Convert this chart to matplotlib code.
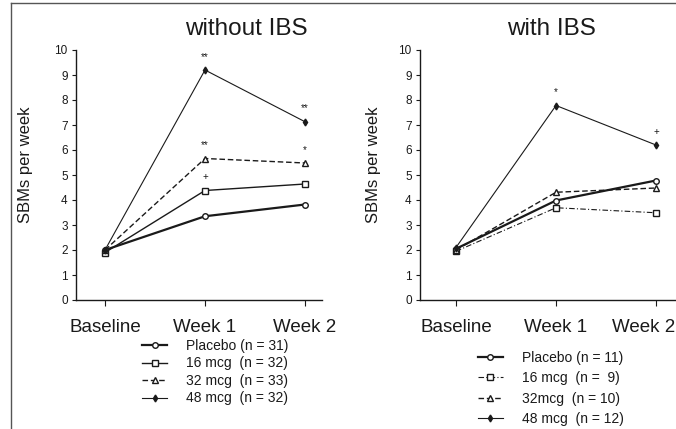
import matplotlib.pyplot as plt
from matplotlib.lines import Line2D
from matplotlib.transforms import ScaledTranslation

plt.rcParams['font.family'] = ['Liberation Sans', 'DejaVu Sans']

timepoints = ['Baseline', 'Week 1', 'Week 2']
yticks = list(range(0, 11))

# without IBS
no_ibs_placebo = [2.0, 3.35, 3.82]
no_ibs_16 = [1.9, 4.38, 4.64]
no_ibs_32 = [2.0, 5.66, 5.48]
no_ibs_48 = [2.0, 9.2, 7.13]
no_ibs_labels = ['Placebo (n = 31)', '16 mcg  (n = 32)', '32 mcg  (n = 33)', '48 mcg  (n = 32)']

# with IBS
ibs_placebo = [2.05, 3.98, 4.78]
ibs_16 = [1.95, 3.69, 3.49]
ibs_32 = [2.0, 4.31, 4.48]
ibs_48 = [2.1, 7.78, 6.2]
ibs_labels = ['Placebo (n = 11)', '16 mcg  (n =  9)', '32mcg  (n = 10)', '48 mcg  (n = 12)']

# significance marks: (series index, timepoint index, symbol)
no_ibs_marks = [(3, 1, '**'), (3, 2, '**'), (2, 1, '**'), (2, 2, '*'), (1, 1, '+')]
ibs_marks = [(3, 1, '*'), (3, 2, '+')]

INK = '#1a1a1a'


def draw_panel(ax, series, marks, styles_16):
    x = range(len(timepoints))
    styles = [
        dict(ls='-', lw=1.6, marker='o', ms=4, mfc='white'),
        styles_16,
        dict(ls=(0, (4, 2)), lw=1.0, marker='^', ms=4, mfc='white'),
        dict(ls='-', lw=0.8, marker='d', ms=3.5, mfc=INK),
    ]
    handles = []
    for vals, st in zip(series, styles):
        h, = ax.plot(x, vals, color=INK, mec=INK, **st)
        handles.append(h)
    for si, ti, sym in marks:
        ax.annotate(sym, (ti, series[si][ti]), xytext=(0, 6), textcoords='offset points',
                    ha='center', va='bottom', fontsize=7, color=INK)
    ax.set_ylim(0, 10)
    ax.set_yticks(yticks)
    ax.set_xticks(list(x))
    ax.set_xticklabels(timepoints, fontsize=13.5)
    ax.tick_params(axis='y', labelsize=8.5, length=3, width=0.8, pad=3, colors=INK)
    ax.tick_params(axis='x', length=4, width=0.8, pad=10, colors=INK)
    for s in ['top', 'right']:
        ax.spines[s].set_visible(False)
    for s in ['left', 'bottom']:
        ax.spines[s].set_linewidth(1.0)
        ax.spines[s].set_color(INK)
    ax.set_ylabel('SBMs per week', fontsize=12, color=INK)
    return handles


fig = plt.figure(figsize=(6.76, 4.29), dpi=100)

ax1 = fig.add_axes([76 / 676, 1 - 300 / 429, 246 / 676, 250 / 429])
h1 = draw_panel(ax1, [no_ibs_placebo, no_ibs_16, no_ibs_32, no_ibs_48], no_ibs_marks,
                dict(ls='-', lw=1.0, marker='s', ms=4, mfc='white'))
ax1.set_xlim(-0.29, 2.17)
ax1.yaxis.set_label_coords(-0.175, 0.54)

ax2 = fig.add_axes([420 / 676, 1 - 300 / 429, 256 / 676, 250 / 429])
h2 = draw_panel(ax2, [ibs_placebo, ibs_16, ibs_32, ibs_48], ibs_marks,
                dict(ls=(0, (5, 2, 1, 2)), lw=0.8, marker='s', ms=4, mfc='white'))
ax2.set_xlim(-0.36, 2.2)
ax2.yaxis.set_label_coords(-0.152, 0.54)
# last label sits against the page edge in the original
last = ax2.get_xticklabels()[-1]
last.set_transform(last.get_transform() + ScaledTranslation(-12 / 100, 0, fig.dpi_scale_trans))

fig.text(246 / 676, 1 - 29 / 429, 'without IBS', ha='center', va='center', fontsize=17.5, color=INK)
fig.text(551 / 676, 1 - 29 / 429, 'with IBS', ha='center', va='center', fontsize=17.5, color=INK)

fig.legend(h1, no_ibs_labels, loc='upper left', bbox_to_anchor=(142 / 676, 1 - 339 / 429),
           frameon=False, fontsize=10, handlelength=1.8, handletextpad=1.4,
           labelspacing=0.25, borderpad=0, borderaxespad=0, labelcolor=INK)
fig.legend(h2, ibs_labels, loc='upper left', bbox_to_anchor=(478 / 676, 1 - 351 / 429),
           frameon=False, fontsize=10, handlelength=1.8, handletextpad=1.4,
           labelspacing=0.45, borderpad=0, borderaxespad=0, labelcolor=INK)

# scanned page frame (top and left edges only)
fig.add_artist(Line2D([11 / 676, 1], [1 - 3 / 429, 1 - 3 / 429], color='#555555', lw=1.0,
                      transform=fig.transFigure))
fig.add_artist(Line2D([11 / 676, 11 / 676], [0, 1 - 3 / 429], color='#555555', lw=1.0,
                      transform=fig.transFigure))

fig.savefig('out.png', dpi=100)
